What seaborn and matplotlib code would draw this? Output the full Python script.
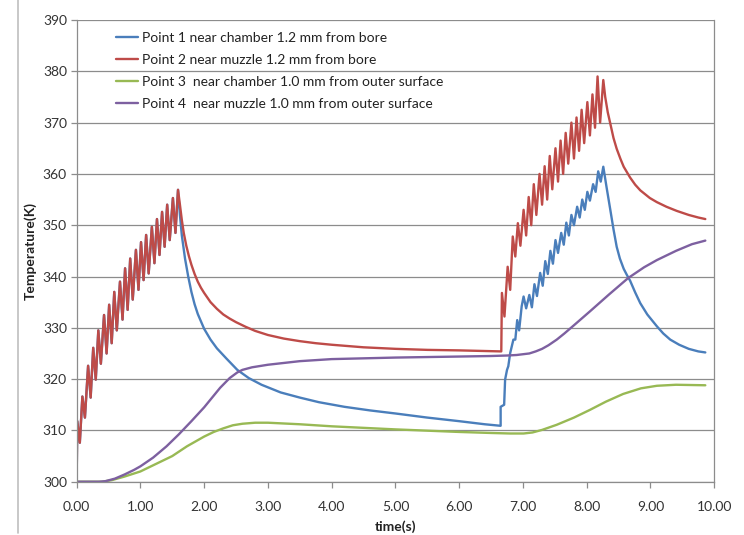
import numpy as np
import pandas as pd
import matplotlib
matplotlib.use('Agg')
import matplotlib.pyplot as plt
import matplotlib.ticker as mticker
import seaborn as sns

labels = ['Point 1 near chamber 1.2 mm from bore',
          'Point 2 near muzzle 1.2 mm from bore',
          'Point 3  near chamber 1.0 mm from outer surface',
          'Point 4  near muzzle 1.0 mm from outer surface']
colors = ['#4a7ebb', '#be4b48', '#98b954', '#7d60a0']

# first firing burst (point 1 and point 2 overlap here)
burst1_t = [0.00, 0.01, 0.05, 0.09, 0.13, 0.18, 0.22, 0.26, 0.30, 0.34, 0.38, 0.43, 0.47,
            0.51, 0.55, 0.59, 0.63, 0.68, 0.72, 0.76, 0.80, 0.84, 0.88, 0.93, 0.97, 1.01,
            1.05, 1.09, 1.13, 1.18, 1.22, 1.26, 1.30, 1.34, 1.38, 1.42, 1.46, 1.51, 1.55, 1.59]
burst1_T = [300.0, 311.8, 307.6, 316.6, 312.5, 322.6, 316.4, 326.1, 319.9, 329.5, 323.0, 332.5, 325.0,
            334.5, 327.0, 337.0, 329.5, 339.0, 331.6, 341.6, 333.5, 343.5, 335.5, 345.2, 337.4, 346.7,
            339.3, 348.1, 340.6, 349.7, 342.6, 351.2, 344.2, 352.6, 345.8, 354.0, 347.1, 355.3, 348.5, 356.9]

# point 1 after first burst and during second burst
p1_t = [1.62, 1.65, 1.70, 1.75, 1.80, 1.85, 1.90, 2.00, 2.10, 2.20, 2.35, 2.52, 2.70, 2.90,
        3.20, 3.50, 3.80, 4.20, 4.60, 5.00, 5.50, 6.00, 6.40, 6.65,
        6.65, 6.705, 6.72, 6.75, 6.77, 6.80, 6.85, 6.88, 6.91, 6.94, 6.98, 7.01, 7.05, 7.10,
        7.14, 7.18, 7.22, 7.27, 7.31, 7.35, 7.39, 7.43, 7.47, 7.51, 7.55, 7.60, 7.64, 7.68,
        7.72, 7.76, 7.80, 7.85, 7.89, 7.93, 7.97, 8.01, 8.05, 8.10, 8.14, 8.18, 8.22, 8.26,
        8.31, 8.37, 8.42, 8.47, 8.52, 8.58, 8.63, 8.68, 8.76, 8.84, 8.95, 9.10, 9.20, 9.31,
        9.45, 9.60, 9.75, 9.86]
p1_T = [352.0, 348.0, 343.5, 340.0, 337.0, 334.6, 332.7, 329.8, 327.7, 326.0, 324.0, 321.8, 320.2, 318.9,
        317.4, 316.4, 315.5, 314.6, 313.9, 313.3, 312.5, 311.8, 311.2, 310.9,
        314.6, 315.0, 319.9, 321.8, 322.5, 325.1, 327.7, 327.7, 331.5, 329.5, 334.2, 336.1, 333.8, 336.4,
        334.0, 338.5, 336.2, 340.7, 338.2, 343.0, 340.5, 345.0, 342.5, 347.1, 344.6, 348.5, 346.2, 350.5,
        348.0, 352.0, 350.0, 353.6, 351.5, 355.0, 353.0, 356.5, 354.8, 358.0, 356.5, 360.5, 358.5, 361.4,
        357.5, 353.0, 349.2, 345.8, 343.5, 341.5, 340.3, 339.2, 336.9, 334.8, 332.6, 330.3, 328.9, 327.7,
        326.7, 325.9, 325.4, 325.2]

# point 2 after first burst and during second burst
p2_t = [1.62, 1.65, 1.68, 1.72, 1.76, 1.80, 1.85, 1.90, 1.95, 2.00, 2.10, 2.20, 2.30, 2.40,
        2.50, 2.65, 2.80, 3.00, 3.25, 3.50, 3.75, 4.00, 4.50, 5.00, 5.50, 6.00, 6.66,
        6.67, 6.71, 6.76, 6.80, 6.84, 6.88, 6.92, 6.96, 7.01, 7.05, 7.09, 7.13, 7.17, 7.21,
        7.26, 7.30, 7.34, 7.38, 7.42, 7.46, 7.51, 7.55, 7.59, 7.63, 7.67, 7.71, 7.76, 7.80,
        7.84, 7.88, 7.92, 7.96, 8.01, 8.05, 8.09, 8.13, 8.17, 8.21, 8.26,
        8.29, 8.33, 8.37, 8.42, 8.47, 8.53, 8.58, 8.68, 8.76, 8.84, 8.99, 9.10, 9.25, 9.41,
        9.60, 9.75, 9.86]
p2_T = [354.0, 351.0, 348.5, 346.0, 344.0, 342.3, 340.5, 339.0, 337.8, 336.8, 335.0, 333.7, 332.6, 331.8,
        331.1, 330.2, 329.4, 328.6, 327.9, 327.4, 327.0, 326.7, 326.2, 325.9, 325.7, 325.6, 325.4,
        336.8, 332.2, 341.9, 337.4, 347.8, 343.9, 350.4, 346.0, 353.0, 348.0, 355.5, 350.0, 358.0, 352.0,
        360.0, 354.0, 361.5, 355.0, 363.5, 357.0, 365.0, 358.5, 366.5, 360.0, 368.0, 362.0, 370.0, 363.0,
        371.0, 364.5, 372.5, 366.0, 374.0, 367.5, 375.5, 369.0, 379.0, 370.0, 378.3,
        375.0, 372.0, 369.8, 367.0, 364.9, 362.9, 361.4, 359.3, 357.9, 356.8, 355.3, 354.5, 353.6, 352.8,
        352.0, 351.5, 351.2]

p3_t = [0.00, 0.40, 0.55, 0.75, 1.00, 1.25, 1.50, 1.73, 2.00, 2.15, 2.30, 2.45, 2.60, 2.80,
        3.00, 3.50, 4.00, 5.00, 6.00, 6.50, 6.80, 7.01, 7.15, 7.30, 7.53, 7.80, 8.05, 8.30,
        8.57, 8.85, 9.10, 9.40, 9.86]
p3_T = [300.0, 300.0, 300.3, 301.0, 302.0, 303.5, 305.0, 306.9, 308.8, 309.7, 310.4, 311.0, 311.3, 311.5,
        311.5, 311.2, 310.8, 310.2, 309.7, 309.5, 309.4, 309.4, 309.6, 310.1, 311.1, 312.5, 314.0, 315.6,
        317.1, 318.2, 318.7, 318.9, 318.8]

p4_t = [0.00, 0.35, 0.45, 0.60, 0.75, 0.90, 1.00, 1.20, 1.41, 1.60, 1.80, 2.00, 2.25, 2.40,
        2.52, 2.60, 2.75, 3.00, 3.50, 4.00, 5.00, 6.00, 6.49, 6.75, 6.90, 7.10, 7.20, 7.30,
        7.40, 7.53, 7.65, 7.80, 8.05, 8.35, 8.65, 8.90, 9.10, 9.40, 9.65, 9.86]
p4_T = [300.0, 300.0, 300.1, 300.6, 301.4, 302.3, 303.0, 304.7, 306.9, 309.2, 311.8, 314.5, 318.3, 320.2,
        321.3, 321.8, 322.3, 322.8, 323.5, 323.9, 324.2, 324.4, 324.5, 324.6, 324.7, 325.0, 325.4, 325.9,
        326.6, 327.7, 328.9, 330.5, 333.2, 336.5, 339.7, 341.8, 343.2, 345.0, 346.3, 347.0]

series = {
    labels[0]: (burst1_t + p1_t, burst1_T + p1_T),
    labels[1]: (burst1_t + p2_t, burst1_T + p2_T),
    labels[2]: (p3_t, p3_T),
    labels[3]: (p4_t, p4_T),
}
frames = []
for name, (t, T) in series.items():
    frames.append(pd.DataFrame({'time': t, 'temp': T, 'series': name}))
df = pd.concat(frames, ignore_index=True)

sns.set_theme(style='white')
plt.rcParams['font.family'] = ['Lato', 'DejaVu Sans']

fig = plt.figure(figsize=(7.44, 5.35), dpi=100)
ax = fig.add_axes([0.103, 0.0996, 0.857, 0.863])

sns.lineplot(data=df, x='time', y='temp', hue='series', hue_order=labels,
             palette=colors, sort=False, estimator=None, linewidth=1.7, ax=ax)

ax.set_xlim(0, 10)
ax.set_ylim(300, 390)
ax.xaxis.set_major_locator(mticker.MultipleLocator(1))
ax.xaxis.set_major_formatter(mticker.FormatStrFormatter('%.2f'))
ax.yaxis.set_major_locator(mticker.MultipleLocator(10))
ax.grid(axis='y', color='#8c8c8c', linewidth=0.9)
ax.grid(axis='x', visible=False)
ax.set_axisbelow(True)
for side in ['left', 'bottom', 'right']:
    ax.spines[side].set_color('#8c8c8c')
    ax.spines[side].set_linewidth(0.9)
ax.spines['top'].set_visible(False)
ax.tick_params(axis='both', which='major', length=4, width=0.9, color='#8c8c8c',
               labelsize=10, labelcolor='#333333', bottom=True, left=True, pad=3)
ax.tick_params(axis='x', pad=10)

ax.set_xlabel('time(s)', fontsize=10, fontweight='bold', color='#222222', labelpad=5)
ax.set_ylabel('Temperature(K)', fontsize=10, fontweight='bold', color='#222222', labelpad=4)

leg = ax.legend(loc='upper left', bbox_to_anchor=(0.062, 0.975), frameon=False,
                fontsize=10, handlelength=1.6, handletextpad=0.25, labelspacing=0.72,
                borderaxespad=0, borderpad=0)
for txt in leg.get_texts():
    txt.set_color('#222222')

fig.add_artist(plt.Line2D([18 / 744, 18 / 744], [0.004, 1.0], color='#bfbfbf', linewidth=1.2))

fig.savefig('out.png', dpi=100)
